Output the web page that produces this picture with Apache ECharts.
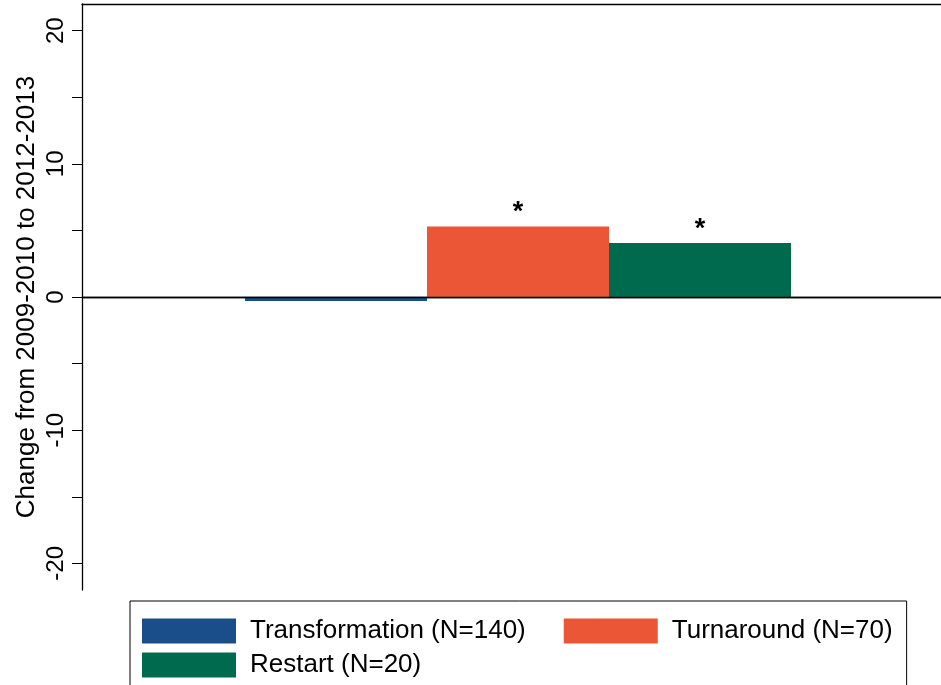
<!DOCTYPE html>
<html>
<head>
<meta charset="utf-8">
<script src="https://cdn.jsdelivr.net/npm/echarts@6/dist/echarts.min.js"></script>
<style>
  html, body { margin: 0; padding: 0; background: #fff; }
  #mychart { width: 941px; height: 685px; }
</style>
</head>
<body>
<div id="mychart"></div>
<script>
// 数据
var groups = ['Transformation (N=140)', 'Turnaround (N=70)', 'Restart (N=20)'];
var values = [-0.3, 5.3, 4.05];
var stars = ['', '*', '*'];
var colors = ['#1a4e8a', '#ea5636', '#006a4f'];
var yLabels = [-20, -10, 0, 10, 20];
var yTicks = [-20, -15, -10, -5, 0, 5, 10, 15, 20];

var font = 'Liberation Sans, Arial, sans-serif';
var myChart = echarts.init(document.getElementById('mychart'));

var series = groups.map(function (name, i) {
    var s = {
        name: name,
        type: 'bar',
        barWidth: 182,
        barGap: '0%',
        itemStyle: { color: colors[i] },
        label: {
            show: stars[i] !== '',
            position: 'top',
            distance: 0,
            formatter: stars[i],
            fontFamily: font,
            fontSize: 27,
            fontWeight: 'bold',
            color: '#000'
        },
        data: [values[i]]
    };
    if (i == 0) {
        s.markLine = {
            silent: true,
            symbol: 'none',
            label: { show: false },
            lineStyle: { color: '#000', width: 1.3, type: 'solid' },
            data: [{ yAxis: 0 }]
        };
    }
    return s;
});

var legendText = { fontFamily: font, fontSize: 26, color: '#000', padding: [0, 0, 0, 9] };

myChart.setOption({
    animation: false,
    color: colors,
    grid: {
        left: 82,
        right: -13,
        top: 4,
        bottom: 95,
        containLabel: false,
        outerBoundsMode: 'none'
    },
    legend: [
        {
            // 第一行 + 外框
            data: [groups[0], groups[1]],
            icon: 'rect',
            left: 130,
            top: 601,
            padding: [17, 14, 50, 12],
            borderColor: '#000',
            borderWidth: 1,
            itemWidth: 94,
            itemHeight: 25,
            itemGap: 38,
            itemStyle: { borderWidth: 0 },
            textStyle: legendText
        },
        {
            // 第二行
            data: [groups[2]],
            icon: 'rect',
            left: 130,
            top: 652,
            padding: [0, 0, 0, 12],
            itemWidth: 94,
            itemHeight: 25,
            itemStyle: { borderWidth: 0 },
            textStyle: legendText
        }
    ],
    xAxis: [
        {
            type: 'category',
            data: [''],
            axisLine: { lineStyle: { color: '#000', width: 1.3 } },
            axisTick: { show: false },
            axisLabel: { show: false }
        },
        {
            type: 'category',
            position: 'top',
            data: [''],
            axisLine: { lineStyle: { color: '#000', width: 1.3 } },
            axisTick: { show: false },
            axisLabel: { show: false }
        }
    ],
    yAxis: {
        type: 'value',
        min: -22,
        max: 22,
        name: 'Change from 2009-2010 to 2012-2013',
        nameLocation: 'middle',
        nameGap: 42,
        nameMoveOverlap: false,
        nameRotate: 90,
        nameTextStyle: { fontFamily: font, fontSize: 26, color: '#000' },
        axisLine: { show: true, lineStyle: { color: '#000', width: 1.3 } },
        axisTick: {
            show: true,
            length: 10,
            customValues: yTicks,
            lineStyle: { color: '#000' }
        },
        axisLabel: {
            customValues: yLabels,
            rotate: 90,
            margin: 14,
            fontFamily: font,
            fontSize: 24,
            color: '#000'
        },
        splitLine: { show: false }
    },
    series: series
});
</script>
</body>
</html>
